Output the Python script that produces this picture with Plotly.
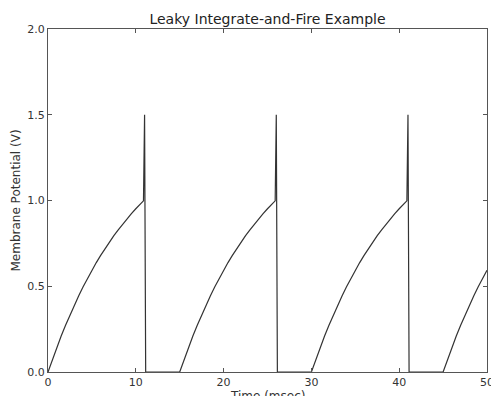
import plotly.graph_objects as go

# Time (msec) and membrane potential (V)
time_ms = [
    0, 0.5, 1, 1.5, 2, 2.5, 3, 3.5, 4, 4.5, 5, 5.5, 6, 6.5, 7, 7.5, 8, 8.5, 9, 9.5, 10, 10.5, 10.875, 11.0, 11.125,
    15, 15.5, 16, 16.5, 17, 17.5, 18, 18.5, 19, 19.5, 20, 20.5, 21, 21.5, 22, 22.5, 23, 23.5, 24, 24.5, 25, 25.5, 25.875, 26.0, 26.125,
    30, 30.5, 31, 31.5, 32, 32.5, 33, 33.5, 34, 34.5, 35, 35.5, 36, 36.5, 37, 37.5, 38, 38.5, 39, 39.5, 40, 40.5, 40.875, 41.0, 41.125,
    45, 45.5, 46, 46.5, 47, 47.5, 48, 48.5, 49, 49.5, 50,
]
volts = [
    0, 0.074, 0.144, 0.210, 0.273, 0.334, 0.391, 0.445, 0.497, 0.546, 0.593, 0.638, 0.680, 0.720, 0.758, 0.795, 0.829, 0.862, 0.894, 0.923, 0.952, 0.979, 0.998, 1.500, 0,
    0, 0.074, 0.144, 0.210, 0.273, 0.334, 0.391, 0.445, 0.497, 0.546, 0.593, 0.638, 0.680, 0.720, 0.758, 0.795, 0.829, 0.862, 0.894, 0.923, 0.952, 0.979, 0.998, 1.500, 0,
    0, 0.074, 0.144, 0.210, 0.273, 0.334, 0.391, 0.445, 0.497, 0.546, 0.593, 0.638, 0.680, 0.720, 0.758, 0.795, 0.829, 0.862, 0.894, 0.923, 0.952, 0.979, 0.998, 1.500, 0,
    0, 0.074, 0.144, 0.210, 0.273, 0.334, 0.391, 0.445, 0.497, 0.546, 0.593,
]
x_ticks = [0, 10, 20, 30, 40, 50]
y_ticks = [0.0, 0.5, 1.0, 1.5, 2.0]

FONT = "DejaVu Sans"

fig = go.Figure()
fig.add_trace(go.Scatter(
    x=time_ms, y=volts, mode="lines",
    line=dict(color="#333333", width=1.2),
    hoverinfo="skip", showlegend=False,
))

axis_common = dict(
    showgrid=False, zeroline=False, automargin=False,
    showline=True, linecolor="#555555", linewidth=1.2, mirror="ticks",
    ticks="inside", ticklen=4, tickcolor="#555555", tickwidth=1,
    ticklabeloverflow="allow",
    tickfont=dict(family=FONT, size=11, color="#333333"),
)

fig.update_layout(
    width=491, height=396,
    margin=dict(l=48, r=4, t=29, b=24),
    paper_bgcolor="white", plot_bgcolor="white",
    title=dict(text="Leaky Integrate-and-Fire Example", x=267.5 / 491, xanchor="center",
               y=1 - 19 / 396, yanchor="middle",
               font=dict(family=FONT, size=14, color="#222222")),
    xaxis=dict(range=[0, 50], tickvals=x_ticks, ticktext=[str(v) for v in x_ticks],
               **axis_common),
    yaxis=dict(range=[0, 2], tickvals=y_ticks, ticktext=[f"{v:.1f}" for v in y_ticks],
               title=dict(text="Membrane Potential (V)", standoff=4,
                          font=dict(family=FONT, size=12, color="#333333")),
               **axis_common),
    annotations=[dict(
        text="Time (msec)", xref="paper", yref="paper", x=0.5, y=0,
        xanchor="center", yanchor="top", yshift=-15, showarrow=False,
        font=dict(family=FONT, size=12, color="#333333"),
    )],
)

fig.write_html("out.html")
